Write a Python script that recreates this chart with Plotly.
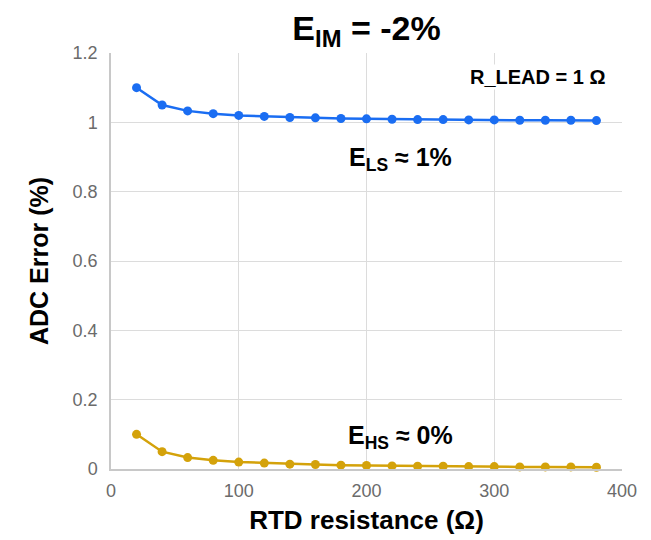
import plotly.graph_objects as go

rtd_resistance = [20, 40, 60, 80, 100, 120, 140, 160, 180, 200, 220, 240, 260, 280, 300, 320, 340, 360, 380]
e_ls_error = [1.100, 1.050, 1.033, 1.025, 1.020, 1.017, 1.014, 1.013, 1.011, 1.010, 1.009, 1.008, 1.008, 1.007, 1.007, 1.006, 1.006, 1.006, 1.005]
e_hs_error = [0.100, 0.050, 0.033, 0.025, 0.020, 0.017, 0.014, 0.013, 0.011, 0.010, 0.009, 0.008, 0.008, 0.007, 0.007, 0.006, 0.006, 0.006, 0.005]
x_ticks = [0, 100, 200, 300, 400]
y_ticks = [0, 0.2, 0.4, 0.6, 0.8, 1.0, 1.2]
y_tick_labels = ["0", "0.2", "0.4", "0.6", "0.8", "1", "1.2"]

BLUE = "#1a6df2"
GOLD = "#d4a20a"
FONT = "Liberation Sans, Arial, sans-serif"

fig = go.Figure()
fig.add_trace(go.Scatter(
    x=rtd_resistance, y=e_ls_error, mode="lines+markers",
    line=dict(color=BLUE, width=2.5), marker=dict(color=BLUE, size=9),
    showlegend=False, cliponaxis=False))
fig.add_trace(go.Scatter(
    x=rtd_resistance, y=e_hs_error, mode="lines+markers",
    line=dict(color=GOLD, width=2.5), marker=dict(color=GOLD, size=9),
    showlegend=False, cliponaxis=False))

fig.update_layout(
    width=643, height=532,
    margin=dict(l=103, r=29, t=45, b=71),
    paper_bgcolor="white", plot_bgcolor="white",
    font=dict(family=FONT),
    title=dict(text="<b>E<sub>IM</sub> = -2%</b>", x=0.5, xref="paper",
               y=0.962, yref="container", yanchor="middle",
               font=dict(size=34, color="black", family=FONT)),
    annotations=[
        dict(text="<b>R_LEAD = 1 Ω</b>", x=334, y=1.131, xref="x", yref="y",
             showarrow=False, font=dict(size=20, color="black"), bgcolor="white"),
        dict(text="<b>E<sub>LS</sub> ≈ 1%</b>", x=227, y=0.895, xref="x", yref="y",
             showarrow=False, font=dict(size=25, color="black")),
        dict(text="<b>E<sub>HS</sub> ≈ 0%</b>", x=227, y=0.092, xref="x", yref="y",
             showarrow=False, font=dict(size=25, color="black")),
    ],
)
fig.update_xaxes(
    range=[0, 400], tickvals=x_ticks, showgrid=True, gridcolor="#dcdcdc", gridwidth=1,
    showline=True, linecolor="#c8c8c8", linewidth=1.5, zeroline=False, automargin=False,
    tickfont=dict(size=18, color="#6b6b6b"), ticks="", ticklabelstandoff=5,
    title=dict(text="<b>RTD resistance (Ω)</b>", font=dict(size=26, color="black"), standoff=10),
)
fig.update_yaxes(
    range=[0, 1.2], tickvals=y_ticks, ticktext=y_tick_labels, showgrid=True,
    gridcolor="#dcdcdc", gridwidth=1, automargin=False,
    showline=True, linecolor="#c8c8c8", linewidth=1.5, zeroline=False,
    tickfont=dict(size=18, color="#6b6b6b"), ticks="", ticklabelstandoff=8,
    title=dict(text="<b>ADC Error (%)</b>", font=dict(size=25, color="black"), standoff=17),
)

fig.write_html("out.html")
